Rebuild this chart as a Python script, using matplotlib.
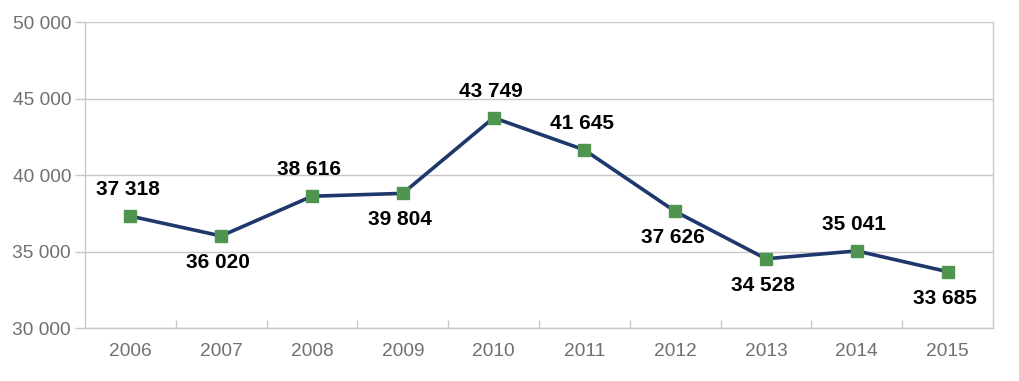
import matplotlib.pyplot as plt

years = ['2006', '2007', '2008', '2009', '2010', '2011', '2012', '2013', '2014', '2015']
values = [37318, 36020, 38616, 38804, 43749, 41645, 37626, 34528, 35041, 33685]
# labels as printed on the chart (2009 label differs from its plotted position)
point_labels = ['37 318', '36 020', '38 616', '39 804', '43 749',
                '41 645', '37 626', '34 528', '35 041', '33 685']
label_side = [1, -1, 1, -1, 1, 1, -1, -1, 1, -1]  # 1 = above, -1 = below
y_ticks = [30000, 35000, 40000, 45000, 50000]

plt.rcParams['font.family'] = ['Liberation Sans', 'DejaVu Sans']

fig = plt.figure(figsize=(10.2, 3.81), dpi=100)
ax = fig.add_axes([0.0833, 0.139, 0.8902, 0.803])

x = list(range(len(years)))
ax.plot(x, values, color='#1f386c', lw=2.6, zorder=3,
        marker='s', markersize=8, markerfacecolor='#4f9550',
        markeredgecolor='#4f9550')

for xi, v, lab, side in zip(x, values, point_labels, label_side):
    ax.annotate(lab, (xi, v), xytext=(-2, 19 * side), textcoords='offset points',
                ha='center', va='center', fontsize=15, fontweight='bold',
                color='black', zorder=4)

ax.set_xlim(-0.5, len(years) - 0.5)
ax.set_ylim(30000, 50000)
ax.set_yticks(y_ticks)
ax.set_yticklabels([f'{t // 1000} 000' for t in y_ticks])
ax.yaxis.grid(True, color='#c8c8c8', lw=1)
ax.set_axisbelow(True)

ax.set_xticks(x)
ax.set_xticklabels(years)
ax.tick_params(axis='x', length=0, pad=11, labelsize=13.8, labelcolor='#707070')
ax.set_xticks([i + 0.5 for i in x[:-1]], minor=True)
ax.tick_params(axis='x', which='minor', direction='in', length=6,
               color='#c8c8c8', width=1)
ax.tick_params(axis='y', length=7, color='#c8c8c8', width=1, pad=3,
               labelsize=13.8, labelcolor='#707070')

for side in ['left', 'right', 'bottom']:
    ax.spines[side].set_color('#c8c8c8')
    ax.spines[side].set_linewidth(1)
ax.spines['top'].set_visible(False)

fig.savefig('out.png', dpi=100, facecolor='white')
